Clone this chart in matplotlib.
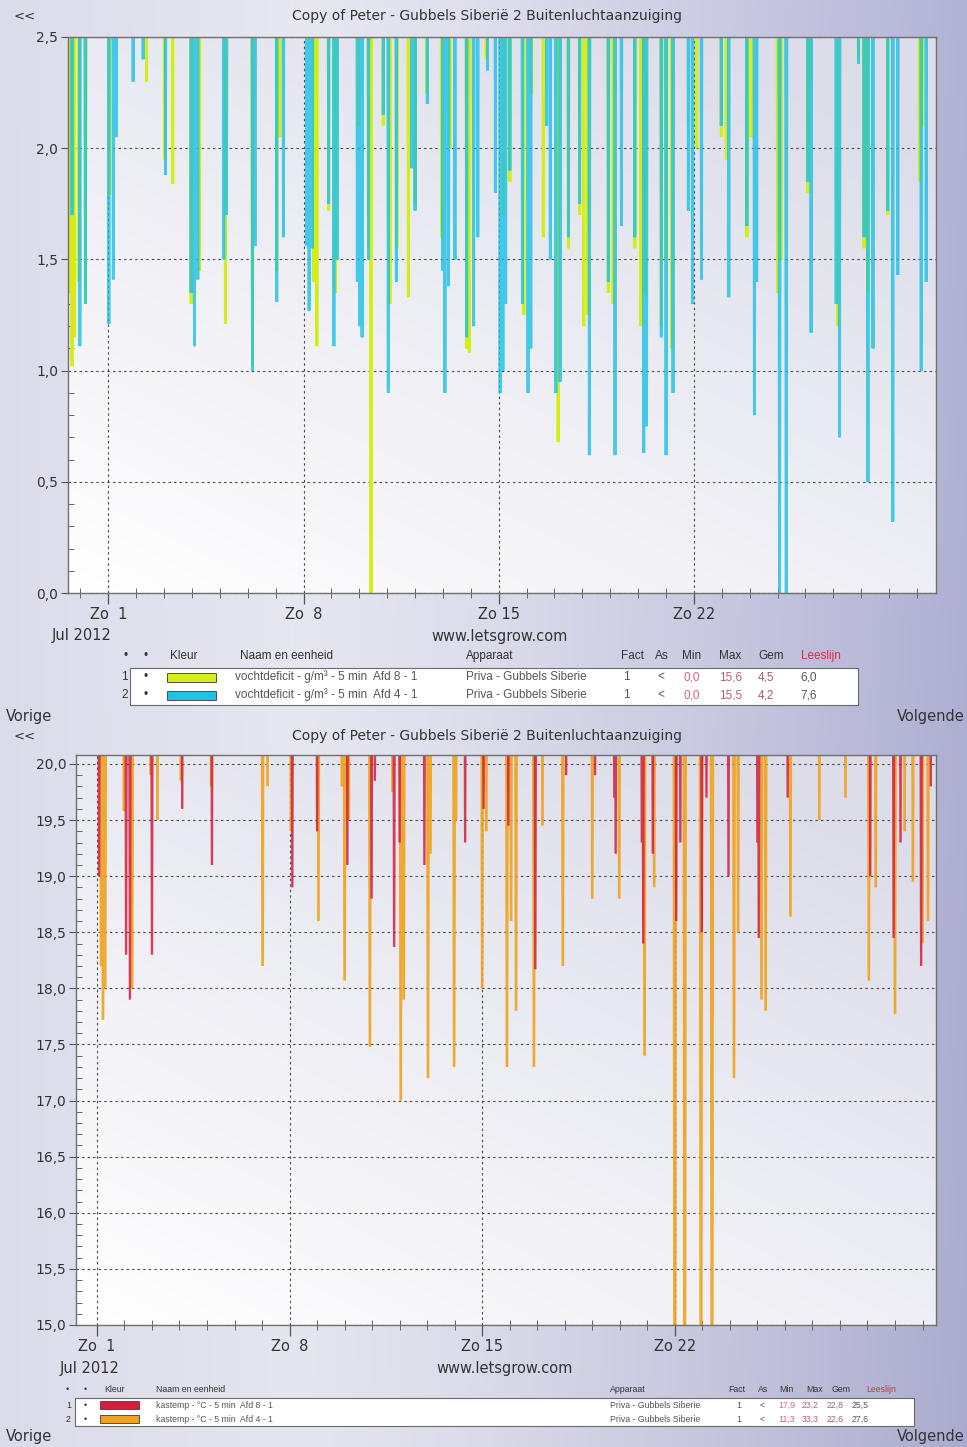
import numpy as np
import matplotlib
matplotlib.use("Agg")
import matplotlib.pyplot as plt
from matplotlib.patches import Rectangle
from matplotlib.ticker import MultipleLocator, FixedLocator, FuncFormatter

W, H, DPI = 967, 1447, 100

# ---- data: night-time dips, as (day offset from Sun 1 July 2012, lowest value) ----
# vochtdeficit Afd 8 (g/m3)
vd8_day = [-1.38, -1.30, -1.22, -1.05, -0.82, 0.05, 1.37, 2.02, 2.31, 2.97, 3.27,
           4.20, 5.17, 6.04, 6.15, 7.36, 7.48, 7.90, 8.15, 8.97, 9.33, 9.42, 9.86,
           10.10, 10.35, 10.76, 11.00, 11.42, 11.95, 12.25, 12.85, 12.95, 13.55, 14.17, 14.40,
           14.90, 15.18, 15.60, 16.13, 16.50, 16.90, 17.05, 17.20, 17.93, 18.10, 18.88, 19.10,
           19.25, 19.83, 20.00, 20.20, 21.10, 21.98, 22.16, 22.90, 23.05, 24.00, 24.13, 25.09,
           25.15, 26.16, 26.90, 27.10, 27.24, 27.95, 29.09, 29.20]
vd8_min = [1.35, 1.02, 1.15, 1.40, 1.30, 1.79, 2.30, 1.95, 1.84, 1.30, 1.45,
           1.21, 1.02, 1.45, 2.05, 1.40, 1.11, 1.72, 1.35, 2.10, 1.55, 0.00, 2.10,
           1.30, 1.55, 1.33, 1.75, 2.25, 1.60, 2.00, 1.10, 1.08, 2.40, 1.70, 1.85,
           1.25, 2.25, 1.60, 0.68, 1.55, 1.70, 1.20, 1.25, 1.35, 1.30, 1.55, 1.20,
           1.35, 1.20, 1.50, 1.10, 2.00, 2.05, 1.95, 1.60, 2.05, 1.35, 1.50, 1.80,
           2.30, 1.20, 2.40, 1.55, 1.35, 1.70, 1.85, 2.10]
# vochtdeficit Afd 4 (g/m3)
vd4_day = [-1.30, -1.02, -0.82, 0.02, 0.18, 0.29, 0.89, 1.25, 2.05, 2.97, 3.09, 3.21,
           4.14, 4.24, 5.17, 5.26, 6.04, 6.28, 7.12, 7.20, 7.32, 7.90, 8.09, 8.21,
           8.93, 9.02, 9.10, 9.33, 9.86, 10.04, 10.33, 10.88, 11.00, 11.44, 12.00, 12.07,
           12.20, 12.43, 12.85, 13.10, 13.25, 13.60, 13.88, 14.05, 14.15, 14.25, 14.40, 14.85,
           15.05, 15.15, 15.72, 15.85, 16.05, 16.20, 16.50, 16.90, 17.25, 17.93, 18.17, 18.40,
           18.88, 19.20, 19.30, 19.83, 20.00, 20.25, 20.80, 20.95, 21.27, 21.98, 22.25, 22.90,
           23.17, 23.25, 24.07, 24.31, 25.09, 25.20, 26.10, 26.22, 26.90, 27.10, 27.24, 27.42,
           27.95, 28.13, 28.31, 29.15, 29.33]
vd4_min = [1.70, 1.11, 1.30, 1.21, 1.41, 2.05, 2.30, 2.40, 1.88, 1.35, 1.11, 1.41,
           1.50, 1.70, 1.00, 1.56, 1.31, 1.60, 1.56, 1.27, 1.55, 1.75, 1.11, 1.50,
           1.40, 1.20, 1.15, 1.50, 2.15, 0.90, 1.40, 1.91, 1.72, 2.20, 1.45, 0.90,
           1.38, 1.50, 1.15, 1.20, 1.60, 2.35, 1.80, 0.90, 1.00, 1.30, 1.90, 1.30,
           0.90, 1.10, 2.10, 1.50, 0.90, 0.95, 1.60, 1.75, 0.62, 1.40, 0.62, 1.65,
           1.60, 0.63, 0.75, 1.15, 0.62, 0.90, 1.72, 1.30, 1.41, 2.10, 1.33, 1.65,
           0.80, 1.40, 0.00, 0.00, 1.85, 1.17, 1.30, 0.70, 2.38, 1.60, 0.50, 1.10,
           1.72, 0.32, 1.43, 1.00, 1.40]
# kastemp Afd 8 (degC)
kt8_day = [0.08, 1.06, 1.20, 2.00, 3.10, 4.18, 7.10, 8.00, 9.10, 9.98, 10.10, 10.80,
           11.00, 11.90, 13.38, 14.05, 14.95, 15.93, 17.05, 18.10, 18.80, 18.85, 19.80, 19.85,
           20.20, 21.05, 21.20, 21.98, 22.15, 22.95, 24.00, 24.05, 25.10, 28.10, 28.95, 29.20,
           29.95, 30.30]
kt8_min = [19.0, 18.3, 17.9, 18.3, 19.6, 19.1, 18.9, 19.4, 19.1, 18.8, 19.85, 18.37,
           19.3, 19.1, 19.3, 19.6, 19.45, 18.17, 19.9, 19.9, 19.7, 19.2, 19.3, 18.4,
           19.2, 18.6, 19.3, 18.5, 19.7, 19.0, 19.3, 18.45, 19.7, 19.0, 18.45, 19.3,
           18.2, 19.8]
# kastemp Afd 4 (degC)
kt4_day = [0.15, 0.22, 0.30, 0.98, 1.28, 1.95, 2.20, 3.05, 4.15, 6.02, 6.20, 7.05,
           8.05, 8.90, 9.00, 9.15, 9.92, 10.74, 11.04, 11.15, 12.03, 12.12, 12.98, 13.05,
           14.00, 14.15, 14.90, 15.05, 15.23, 15.88, 16.19, 16.93, 18.00, 18.98, 19.90, 20.25,
           21.00, 21.36, 21.95, 22.35, 23.15, 23.30, 24.15, 24.30, 25.20, 26.25, 27.20, 28.05,
           28.30, 29.00, 29.35, 29.65, 30.00, 30.20]
kt4_min = [18.2, 17.72, 18.0, 19.58, 18.0, 19.9, 19.5, 19.85, 19.8, 18.2, 19.8, 19.4,
           18.6, 19.8, 18.07, 19.5, 17.48, 19.75, 17.0, 17.9, 17.2, 19.2, 17.3, 19.5,
           18.0, 19.4, 17.3, 18.6, 17.8, 17.3, 19.45, 18.2, 18.8, 18.8, 17.4, 18.9,
           11.3, 13.0, 13.0, 13.0, 17.2, 18.5, 17.9, 17.8, 18.64, 19.5, 19.7, 18.07,
           18.9, 17.77, 19.4, 18.95, 18.4, 18.6]

# daytime level the series sit at between the night dips (above the plotted range)
vd_day_level = 6.0
kt_day_level = 24.0

week_ticks = [0, 7, 14, 21]
week_labels = ["Zo  1", "Zo  8", "Zo 15", "Zo 22"]

title = "Copy of Peter - Gubbels Siberi\u00eb 2 Buitenluchtaanzuiging"

legend_top = [
    ("1", "#d6ef1a", "vochtdeficit - g/m\u00b3 - 5 min  Afd 8 - 1", "Priva - Gubbels Siberie", "1", "<", "0,0", "15,6", "4,5", "6,0"),
    ("2", "#1fc3e6", "vochtdeficit - g/m\u00b3 - 5 min  Afd 4 - 1", "Priva - Gubbels Siberie", "1", "<", "0,0", "15,5", "4,2", "7,6"),
]
legend_bottom = [
    ("1", "#d0203a", "kastemp - \u00b0C - 5 min  Afd 8 - 1", "Priva - Gubbels Siberie", "1", "<", "17,9", "23,2", "22,8", "25,5"),
    ("2", "#efa21e", "kastemp - \u00b0C - 5 min  Afd 4 - 1", "Priva - Gubbels Siberie", "1", "<", "11,3", "33,3", "22,6", "27,6"),
]

TXT = "#333333"
GRID = "#4a4a4a"


def fx(x):
    return x / W


def fy(y):
    return 1 - y / H


def night_trace(days, lows, level, half_width=0.05):
    order = np.argsort(days)
    t, v = [], []
    for i in order:
        t += [days[i] - half_width, days[i], days[i] + half_width]
        v += [level, lows[i], level]
    return np.array(t), np.array(v)


def comma(v, pos=None):
    return f"{v:.1f}".replace(".", ",")


fig = plt.figure(figsize=(W / DPI, H / DPI), dpi=DPI)

# lavender page background
bg = fig.add_axes([0, 0, 1, 1], zorder=-10)
gx = np.linspace(0, 1, 300)[None, :]
gy = np.linspace(0, 1, 300)[:, None]
c_left = np.array([0.86, 0.86, 0.92])
c_mid = np.array([0.91, 0.91, 0.95])
c_right = np.array([0.70, 0.70, 0.84])
wl = np.clip(1 - gx / 0.3, 0, 1)
wr = np.clip((gx - 0.3) / 0.7, 0, 1) ** 1.3
base = (c_left[None, None, :] * wl[..., None] + c_mid[None, None, :] * (1 - wl[..., None]))
img = base * (1 - wr[..., None]) + c_right[None, None, :] * wr[..., None]
img = img * np.ones((300, 1, 1)) - 0.03 * gy[..., None] * gx[..., None]
bg.imshow(np.clip(img, 0, 1), extent=[0, 1, 0, 1], aspect="auto", origin="upper")
bg.set_axis_off()


def plot_panel(rect_px, xlim, ylim, ymajor, series, top_y):
    l, t, r, b = rect_px
    ax = fig.add_axes([fx(l), fy(b), fx(r) - fx(l), (b - t) / H])
    # soft white-to-lavender plot area
    ux = np.linspace(0, 1, 200)[None, :]
    uy = np.linspace(0, 1, 200)[:, None]
    s = np.clip(0.5 * ux + 0.65 * (1 - uy), 0, 1)
    col0 = np.array([1.0, 1.0, 1.0])
    col1 = np.array([0.87, 0.87, 0.92])
    pa = col0[None, None, :] * (1 - s[..., None]) + col1[None, None, :] * s[..., None]
    ax.imshow(pa, extent=[0, 1, 0, 1], transform=ax.transAxes, aspect="auto",
              origin="upper", zorder=0, interpolation="bicubic")

    for days, lows, level, color, alpha, lw in series:
        tt, vv = night_trace(days, lows, level)
        ax.plot(tt, vv, color=color, alpha=alpha, lw=lw, zorder=3, solid_joinstyle="miter")

    ax.set_xlim(*xlim)
    ax.set_ylim(*ylim)
    ax.yaxis.set_major_locator(MultipleLocator(ymajor))
    ax.yaxis.set_minor_locator(MultipleLocator(0.1))
    ax.yaxis.set_major_formatter(FuncFormatter(comma))
    ax.xaxis.set_major_locator(FixedLocator(week_ticks))
    ax.xaxis.set_minor_locator(FixedLocator(list(range(-1, 31))))
    ax.set_xticklabels(week_labels)
    ax.tick_params(axis="y", which="major", direction="out", length=5, width=0.8,
                   color="#555555", labelsize=10, labelcolor=TXT, pad=2)
    ax.tick_params(axis="y", which="minor", direction="in", length=4, width=0.7, color="#666666")
    ax.tick_params(axis="x", which="major", direction="out", length=8, width=0.9,
                   color="#555555", labelsize=10.5, labelcolor=TXT, pad=2)
    ax.tick_params(axis="x", which="minor", direction="inout", length=7, width=0.7, color="#666666")
    ax.grid(True, which="major", color=GRID, lw=0.8, ls=(0, (2.2, 2.8)), zorder=2)
    for sp in ax.spines.values():
        sp.set_color("#707070")
        sp.set_linewidth(1.0)
        sp.set_zorder(4)

    fig.text(fx(487), fy(top_y - 21), title, ha="center", va="center", fontsize=10, color=TXT)
    fig.text(fx(14), fy(top_y - 21), "<<", ha="left", va="center", fontsize=9.5, color=TXT)
    return ax


# ---- top panel: vochtdeficit ----
plot_panel((68, 37, 936, 593), (-1.445, 29.68), (0.0, 2.5), 0.5,
           [(vd8_day, vd8_min, vd_day_level, "#d2ee16", 1.0, 2.1),
            (vd4_day, vd4_min, vd_day_level, "#16bfe6", 0.78, 2.1)], 37)
fig.text(fx(82), fy(635), "Jul 2012", ha="center", va="center", fontsize=10.5, color=TXT)
fig.text(fx(500), fy(636), "www.letsgrow.com", ha="center", va="center", fontsize=10.5, color=TXT)
fig.text(fx(6), fy(716), "Vorige", ha="left", va="center", fontsize=10.5, color=TXT)
fig.text(fx(965), fy(716), "Volgende", ha="right", va="center", fontsize=10.5, color=TXT)

# ---- bottom panel: kastemp ----
plot_panel((76, 755, 936, 1325), (-0.76, 30.49), (15.0, 20.08), 0.5,
           [(kt4_day, kt4_min, kt_day_level, "#f0a21c", 0.9, 1.9),
            (kt8_day, kt8_min, kt_day_level, "#d21e3c", 0.85, 1.7)], 757)
fig.text(fx(90), fy(1369), "Jul 2012", ha="center", va="center", fontsize=10.5, color=TXT)
fig.text(fx(505), fy(1369), "www.letsgrow.com", ha="center", va="center", fontsize=10.5, color=TXT)
fig.text(fx(6), fy(1437), "Vorige", ha="left", va="center", fontsize=10.5, color=TXT)
fig.text(fx(965), fy(1437), "Volgende", ha="right", va="center", fontsize=10.5, color=TXT)

NARROW = ["Liberation Sans Narrow", "Liberation Sans", "DejaVu Sans"]


def legend_table(rows, box, header_y, row_ys, cols, swatch, fs, hfs):
    x0, y0, x1, y1 = box
    fig.patches.append(Rectangle((fx(x0), fy(y1)), fx(x1) - fx(x0), (y1 - y0) / H,
                                 transform=fig.transFigure, facecolor="white",
                                 edgecolor="#6a6a6a", lw=0.8, zorder=1))
    heads = [("\u2022", cols["dot1"], TXT), ("\u2022", cols["dot2"], TXT),
             ("Kleur", cols["kleur"], TXT), ("Naam en eenheid", cols["naam"], TXT),
             ("Apparaat", cols["app"], TXT), ("Fact", cols["fact"], TXT),
             ("As", cols["as"], TXT), ("Min", cols["min"], TXT), ("Max", cols["max"], TXT),
             ("Gem", cols["gem"], TXT), ("Leeslijn", cols["lees"], "#d0304a")]
    for txt, x, c in heads:
        fig.text(fx(x), fy(header_y), txt, ha="left", va="center", fontsize=hfs,
                 color=c, family=NARROW)
    for (num, colr, name, dev, fact, asx, mn, mx, gem, lees), ry in zip(rows, row_ys):
        fig.text(fx(cols["num"]), fy(ry), num, ha="left", va="center", fontsize=fs, color=TXT, family=NARROW)
        fig.text(fx(cols["dot2"]), fy(ry), "\u2022", ha="left", va="center", fontsize=fs, color=TXT, family=NARROW)
        sx0, sx1, sh = swatch
        fig.patches.append(Rectangle((fx(sx0), fy(ry + sh / 2)), fx(sx1) - fx(sx0), sh / H,
                                     transform=fig.transFigure, facecolor=colr,
                                     edgecolor="#505050", lw=0.7, zorder=2))
        for txt, key, c in [(name, "naam_r", "#555555"), (dev, "app", "#555555"),
                            (fact, "fact_r", "#555555"), (asx, "as_r", "#555555"),
                            (mn, "min_r", "#e0607a"), (mx, "max_r", "#b06070"),
                            (gem, "gem_r", "#a06070"), (lees, "lees_r", "#555555")]:
            fig.text(fx(cols[key]), fy(ry), txt, ha="left", va="center", fontsize=fs,
                     color=c, family=NARROW)


legend_table(legend_top, (130, 668, 858, 705), 656, [677, 695],
             dict(dot1=123, dot2=144, kleur=170, naam=240, app=466, fact=621, **{"as": 655},
                  min=682, max=719, gem=758, lees=801, num=121, naam_r=235, fact_r=623,
                  as_r=657, min_r=684, max_r=719, gem_r=758, lees_r=800),
             (167, 216, 9), 8.5, 8.5)

legend_bottom_cols = dict(dot1=66, dot2=84, kleur=104, naam=156, app=610, fact=728, **{"as": 758},
                          min=779, max=806, gem=832, lees=866, num=66, naam_r=156, fact_r=736,
                          as_r=760, min_r=778, max_r=802, gem_r=827, lees_r=852)
legend_table(legend_bottom, (75, 1398, 914, 1426), 1389, [1405, 1419],
             legend_bottom_cols, (100, 139, 8), 6.3, 6.3)

fig.savefig("out.png", dpi=DPI)
